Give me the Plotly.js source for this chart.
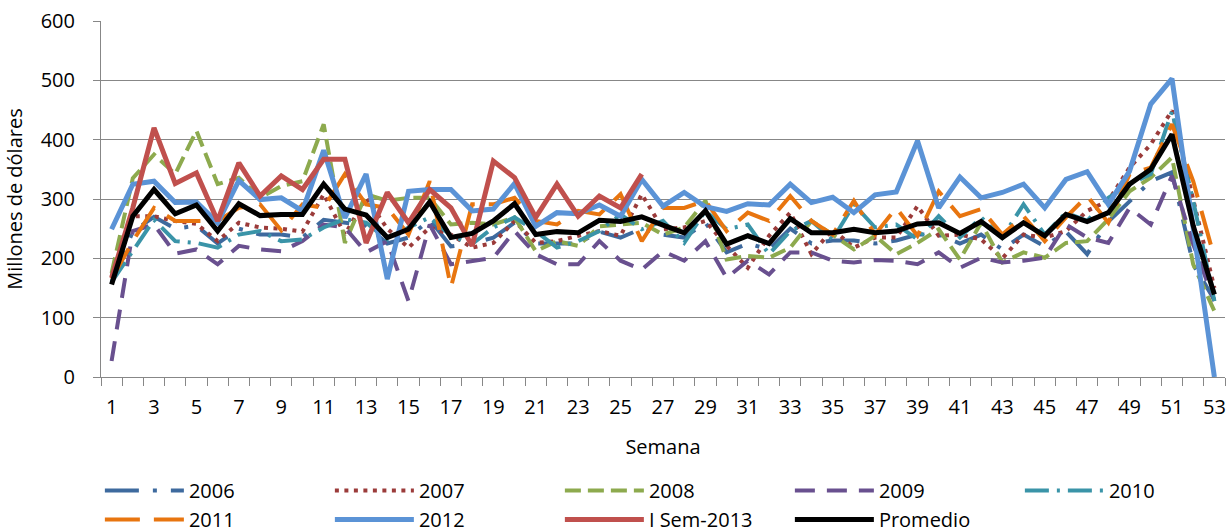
<!DOCTYPE html>
<html>
<head>
<meta charset="utf-8">
<script src="https://cdn.plot.ly/plotly-3.0.1.min.js"></script>
<style>html,body{margin:0;padding:0;background:#fff}#chart{width:1231px;height:532px}</style>
</head>
<body>
<div id="chart"></div>
<script>
const weeks = Array.from({length: 53}, (_, i) => i + 1);
const tickLabels = [1,3,5,7,9,11,13,15,17,19,21,23,25,27,29,31,33,35,37,39,41,43,45,47,49,51,53];

const y2006 = [160,245,270,250,255,225,250,240,240,235,265,260,255,225,235,265,220,225,235,260,225,225,225,245,235,250,240,235,260,210,225,215,250,225,230,230,225,230,240,240,225,240,215,240,220,245,207,262,297,330,345,190,130];
const y2007 = [170,271,271,263,258,229,260,252,250,245,308,240,302,250,218,252,240,218,226,263,226,229,238,246,238,308,249,252,263,221,184,238,277,207,249,218,235,235,288,238,240,232,200,240,235,246,280,297,353,392,449,300,150];
const y2008 = [175,335,375,342,415,325,336,302,322,330,426,226,308,297,302,302,257,260,257,269,212,229,221,254,257,260,240,252,297,198,204,201,218,263,240,215,238,207,226,249,198,260,193,210,201,226,229,266,313,336,370,190,111];
const y2009 = [27,246,257,208,215,190,221,215,212,229,257,252,210,229,128,257,190,196,201,246,207,190,190,229,196,181,212,196,229,167,196,173,210,210,196,193,197,196,190,210,184,201,193,196,201,257,235,226,285,257,339,224,128];
const y2010 = [160,212,265,229,226,218,240,246,229,232,252,266,260,232,252,269,238,224,252,269,246,218,229,246,274,249,263,226,280,249,257,207,246,263,232,291,252,257,232,271,235,269,235,291,240,277,263,302,325,342,448,297,128];
const y2011 = [165,229,285,263,263,263,285,291,247,291,285,342,291,285,240,330,151,291,291,302,263,257,280,274,308,229,285,285,297,246,277,263,305,263,240,297,240,285,238,313,271,283,240,271,229,269,305,260,342,353,426,330,201];
const y2012 = [249,325,330,294,295,260,331,299,302,280,382,268,342,165,313,316,316,280,283,326,254,277,275,290,271,333,288,311,287,279,292,290,325,294,303,277,307,312,398,285,337,302,311,325,285,333,346,291,347,460,503,252,0];
const ySem2013 = [167,285,420,326,344,263,361,305,339,316,367,367,226,311,260,316,285,221,364,336,269,325,271,305,285,342];
const yPromedio = [156,271,316,275,290,246,292,272,274,274,325,283,273,235,249,295,235,242,263,292,240,245,243,264,262,270,256,243,280,224,238,225,267,243,243,249,243,246,258,260,242,262,235,260,238,274,262,277,325,350,409,255,139];

const seriesNames = ['2006','2007','2008','2009','2010','2011','2012','I Sem-2013','Promedio'];
const seriesData = [y2006,y2007,y2008,y2009,y2010,y2011,y2012,ySem2013,yPromedio];
const colors = ['#3E6A9E','#9B3B3A','#8DAA4E','#69508F','#3A94A8','#E8750F','#5B93D6','#C0504D','#000000'];
const dashes = ['34px,14px,4px,14px','4px,5.5px','16px,7px','20px,12px','24px,8px,3px,8px','35px,14px','solid','solid','solid'];
const widths = [4,4,4,4,4,4,5,5,5];

const traces = seriesNames.map((name, i) => ({
  type: 'scatter',
  mode: 'lines',
  name: name,
  x: weeks.slice(0, seriesData[i].length),
  y: seriesData[i],
  line: {color: colors[i], width: widths[i], dash: dashes[i]},
  hoverinfo: 'x+y+name'
}));

const layout = {
  width: 1231,
  height: 532,
  margin: {l: 101, r: 6, t: 21, b: 155, autoexpand: false},
  paper_bgcolor: '#ffffff',
  plot_bgcolor: '#ffffff',
  font: {family: 'Open Sans, sans-serif', size: 20, color: '#000000'},
  showlegend: true,
  xaxis: {
    range: [0.5, 53.5],
    tickmode: 'array',
    tickvals: tickLabels,
    ticktext: tickLabels.map(String),
    ticks: 'outside',
    ticklen: 0,
    ticklabelstandoff: 12,
    showgrid: false,
    zeroline: false,
    showline: true,
    linecolor: '#878787',
    linewidth: 1,
    minor: {ticks: 'outside', tick0: 0.5, dtick: 1, ticklen: 8, tickcolor: '#878787', tickwidth: 1, showgrid: false},
    title: {text: 'Semana', font: {size: 20}, standoff: 20},
    fixedrange: true
  },
  yaxis: {
    range: [0, 600],
    tickmode: 'linear',
    tick0: 0,
    dtick: 100,
    ticks: 'outside',
    ticklen: 7,
    tickcolor: '#878787',
    ticklabelstandoff: 14,
    showgrid: true,
    gridcolor: '#878787',
    gridwidth: 1,
    zeroline: false,
    showline: true,
    linecolor: '#878787',
    linewidth: 1,
    title: {text: 'Millones de dólares', font: {size: 20}, standoff: 12},
    fixedrange: true
  },
  legend: {
    orientation: 'h',
    x: -0.001,
    xanchor: 'left',
    y: -0.264,
    yanchor: 'top',
    entrywidth: 136,
    entrywidthmode: 'pixels',
    itemwidth: 79,
    font: {size: 20},
    traceorder: 'normal',
    bgcolor: 'rgba(0,0,0,0)'
  }
};

Plotly.newPlot('chart', traces, layout, {displayModeBar: false, staticPlot: true});
</script>
</body>
</html>
